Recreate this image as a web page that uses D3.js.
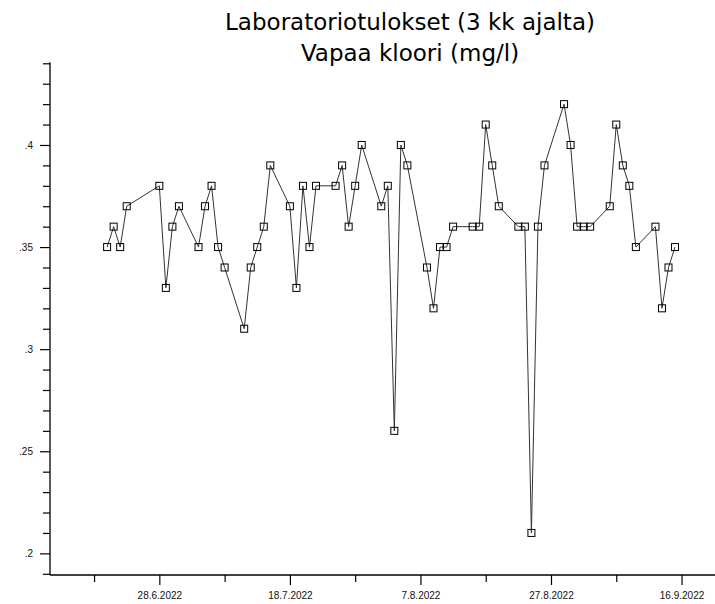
<!DOCTYPE html>
<html>
<head>
<meta charset="utf-8">
<script src="https://cdn.jsdelivr.net/npm/d3@7"></script>
<style>
  body { margin: 0; background: #fff; }
  .tick text { font-family: "Liberation Sans", Arial, sans-serif; font-size: 10px; fill: #111; }
</style>
</head>
<body>
<div id="chart"></div>
<script>
// sample dates (d.m.yyyy) and free chlorine (mg/l)
var dates = ["20.6.2022","21.6.2022","22.6.2022","23.6.2022",
  "28.6.2022","29.6.2022","30.6.2022","1.7.2022",
  "4.7.2022","5.7.2022","6.7.2022","7.7.2022","8.7.2022",
  "11.7.2022","12.7.2022","13.7.2022","14.7.2022","15.7.2022",
  "18.7.2022","19.7.2022","20.7.2022","21.7.2022","22.7.2022",
  "25.7.2022","26.7.2022","27.7.2022","28.7.2022","29.7.2022",
  "1.8.2022","2.8.2022","3.8.2022","4.8.2022","5.8.2022",
  "8.8.2022","9.8.2022","10.8.2022","11.8.2022","12.8.2022",
  "15.8.2022","16.8.2022","17.8.2022","18.8.2022","19.8.2022",
  "22.8.2022","23.8.2022","24.8.2022","25.8.2022","26.8.2022",
  "29.8.2022","30.8.2022","31.8.2022","1.9.2022","2.9.2022",
  "5.9.2022","6.9.2022","7.9.2022","8.9.2022","9.9.2022",
  "12.9.2022","13.9.2022","14.9.2022","15.9.2022"];
var values = [.35,.36,.35,.37,
  .38,.33,.36,.37,
  .35,.37,.38,.35,.34,
  .31,.34,.35,.36,.39,
  .37,.33,.38,.35,.38,
  .38,.39,.36,.38,.40,
  .37,.38,.26,.40,.39,
  .34,.32,.35,.35,.36,
  .36,.36,.41,.39,.37,
  .36,.36,.21,.36,.39,
  .42,.40,.36,.36,.36,
  .37,.41,.39,.38,.35,
  .36,.32,.34,.35];

var xMajorTicks = ["28.6.2022","18.7.2022","7.8.2022","27.8.2022","16.9.2022"];
var xMinorTicks = ["18.6.2022","8.7.2022","28.7.2022","17.8.2022","6.9.2022"];
var yMajorTicks = [.2,.25,.3,.35,.4];
var yTickLabels = [".2",".25",".3",".35",".4"];
var yMinorTicks = [.19,.21,.22,.23,.24,.26,.27,.28,.29,.31,.32,.33,.34,.36,.37,.38,.39,.41,.42,.43,.44];

var parseDate = d3.utcParse("%d.%m.%Y");
var data = dates.map(function(d, i) { return { date: parseDate(d), value: values[i] }; });

var svgWidth = 715, svgHeight = 604;
var plot = { left: 50, right: 715, top: 63.3, bottom: 575 };

var svg = d3.select("#chart").append("svg")
  .attr("width", svgWidth)
  .attr("height", svgHeight);

var x = d3.scaleUtc()
  .domain([new Date(Date.UTC(2022,5,11,6)), new Date(Date.UTC(2022,8,21,3))])
  .range([plot.left, plot.right]);

var y = d3.scaleLinear()
  .domain([0.1894, 0.44])
  .range([plot.bottom, plot.top]);

// title
var title = svg.append("text")
  .attr("text-anchor", "middle")
  .attr("font-family", "'DejaVu Sans', Verdana, sans-serif")
  .attr("font-size", "23px")
  .attr("fill", "#000");
title.append("tspan").attr("x", 410).attr("y", 30).text("Laboratoriotulokset (3 kk ajalta)");
title.append("tspan").attr("x", 410).attr("y", 61).text("Vapaa kloori (mg/l)");

// x axis
var xLabel = {};
xMajorTicks.forEach(function(t) { xLabel[+parseDate(t)] = t; });

svg.append("g")
  .attr("transform", "translate(0," + plot.bottom + ")")
  .call(d3.axisBottom(x).tickValues(xMinorTicks.map(parseDate)).tickSize(7).tickFormat(""))
  .call(function(g) { g.select(".domain").remove(); });

svg.append("g")
  .attr("transform", "translate(0," + plot.bottom + ")")
  .call(d3.axisBottom(x).tickValues(xMajorTicks.map(parseDate)).tickSize(10).tickPadding(7)
    .tickFormat(function(d) { return xLabel[+d]; }))
  .call(function(g) { g.select(".domain").remove(); });

// y axis
svg.append("g")
  .attr("transform", "translate(" + plot.left + ",0)")
  .call(d3.axisLeft(y).tickValues(yMinorTicks).tickSize(7).tickFormat(""))
  .call(function(g) { g.select(".domain").remove(); });

svg.append("g")
  .attr("transform", "translate(" + plot.left + ",0)")
  .call(d3.axisLeft(y).tickValues(yMajorTicks).tickSize(10).tickPadding(7)
    .tickFormat(function(d, i) { return yTickLabels[i]; }))
  .call(function(g) { g.select(".domain").remove(); });

svg.selectAll(".tick line").attr("stroke", "#000").attr("stroke-width", 1.2);

// axis lines
svg.append("line")
  .attr("x1", plot.left).attr("x2", plot.right).attr("y1", plot.bottom).attr("y2", plot.bottom)
  .attr("stroke", "#000").attr("stroke-width", 1.3);
svg.append("line")
  .attr("x1", plot.left).attr("x2", plot.left).attr("y1", plot.top - 1).attr("y2", plot.bottom)
  .attr("stroke", "#000").attr("stroke-width", 1.3);

// series
var line = d3.line()
  .x(function(d) { return x(d.date); })
  .y(function(d) { return y(d.value); });

svg.append("path")
  .datum(data)
  .attr("d", line)
  .attr("fill", "none")
  .attr("stroke", "#333")
  .attr("stroke-width", 1);

var sq = 7;
svg.append("g").selectAll("rect")
  .data(data)
  .enter()
  .append("rect")
  .attr("x", function(d) { return x(d.date) - sq / 2; })
  .attr("y", function(d) { return y(d.value) - sq / 2; })
  .attr("width", sq)
  .attr("height", sq)
  .attr("fill", "none")
  .attr("stroke", "#000")
  .attr("stroke-width", 1);
</script>
</body>
</html>
